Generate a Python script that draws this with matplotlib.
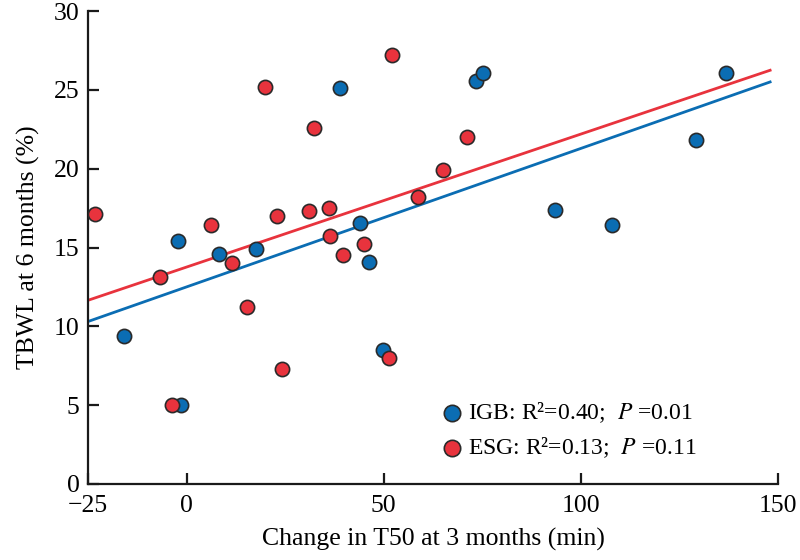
import matplotlib
matplotlib.use("Agg")
import matplotlib.pyplot as plt
import numpy as np

plt.rcParams['font.family'] = ['Liberation Serif', 'DejaVu Serif']
plt.rcParams['mathtext.fontset'] = 'stix'

# IGB group (blue)
igb_x = [-15.8, -2.1, -1.5, 8.3, 17.7, 38.8, 43.9, 46.2, 49.9, 73.5, 75.1, 93.4, 107.8, 129.3, 136.9]
igb_y = [9.4, 15.4, 5.0, 14.6, 14.9, 25.1, 16.55, 14.1, 8.5, 25.6, 26.1, 17.35, 16.4, 21.8, 26.1]

# ESG group (red)
esg_x = [-23.3, -6.8, -3.7, 6.2, 11.5, 15.4, 19.9, 22.9, 24.3, 31.1, 32.2, 36.0, 36.3, 39.7,
         44.9, 51.3, 52.0, 58.6, 65.1, 71.1]
esg_y = [17.1, 13.1, 5.0, 16.4, 14.0, 11.2, 25.2, 17.0, 7.3, 17.3, 22.6, 17.5, 15.7, 14.5,
         15.2, 8.0, 27.2, 18.2, 19.9, 22.0]

# regression lines (intercept, slope) and x-range
igb_fit = (12.5, 0.0879)
esg_fit = (13.76, 0.0844)
fit_range = [-25, 148]

labels = ["IGB: R²=0.40;  $P$ =0.01", "ESG: R²=0.13;  $P$ =0.11"]
xticks = [-25, 0, 50, 100, 150]
yticks = [0, 5, 10, 15, 20, 25, 30]

blue = '#0B6DB3'
red = '#E8333D'

fig = plt.figure(figsize=(8, 5.6), dpi=100)
ax = fig.add_axes([0.11, 0.136, 0.8625, 0.844])

xr = np.array(fit_range)
ax.plot(xr, igb_fit[0] + igb_fit[1] * xr, color=blue, lw=2, zorder=2)
ax.plot(xr, esg_fit[0] + esg_fit[1] * xr, color=red, lw=2, zorder=2)

h1 = ax.scatter(igb_x, igb_y, s=105, color=blue, edgecolor='#2a2a2a', linewidth=1.2, zorder=3)
h2 = ax.scatter(esg_x, esg_y, s=105, color=red, edgecolor='#2a2a2a', linewidth=1.2, zorder=4)

ax.set_xlim(-25, 150)
ax.set_ylim(0, 30)
ax.set_xticks(xticks)
ax.set_yticks(yticks)
ax.set_xticklabels(['\u221225' if t < 0 else str(t) for t in xticks])
for s in ['top', 'right']:
    ax.spines[s].set_visible(False)
for s in ['left', 'bottom']:
    ax.spines[s].set_linewidth(1.6)
    ax.spines[s].set_color('#1a1a1a')
ax.tick_params(direction='in', length=8, width=1.6, labelsize=18.5, color='#1a1a1a')
ax.tick_params(axis='x', pad=8)
ax.tick_params(axis='y', pad=6)
ax.set_xlabel('Change in T50 at 3 months (min)', fontsize=18.5, labelpad=8)
ax.set_ylabel('TBWL at 6 months (%)', fontsize=18.5, labelpad=10)

ax.legend([h1, h2], labels, loc='lower left', bbox_to_anchor=(0.51, 0.05),
          frameon=False, fontsize=17, handletextpad=0.2, labelspacing=0.45,
          borderaxespad=0, handlelength=1.0, borderpad=0, markerscale=1.15)

fig.savefig('out.png', dpi=100)
